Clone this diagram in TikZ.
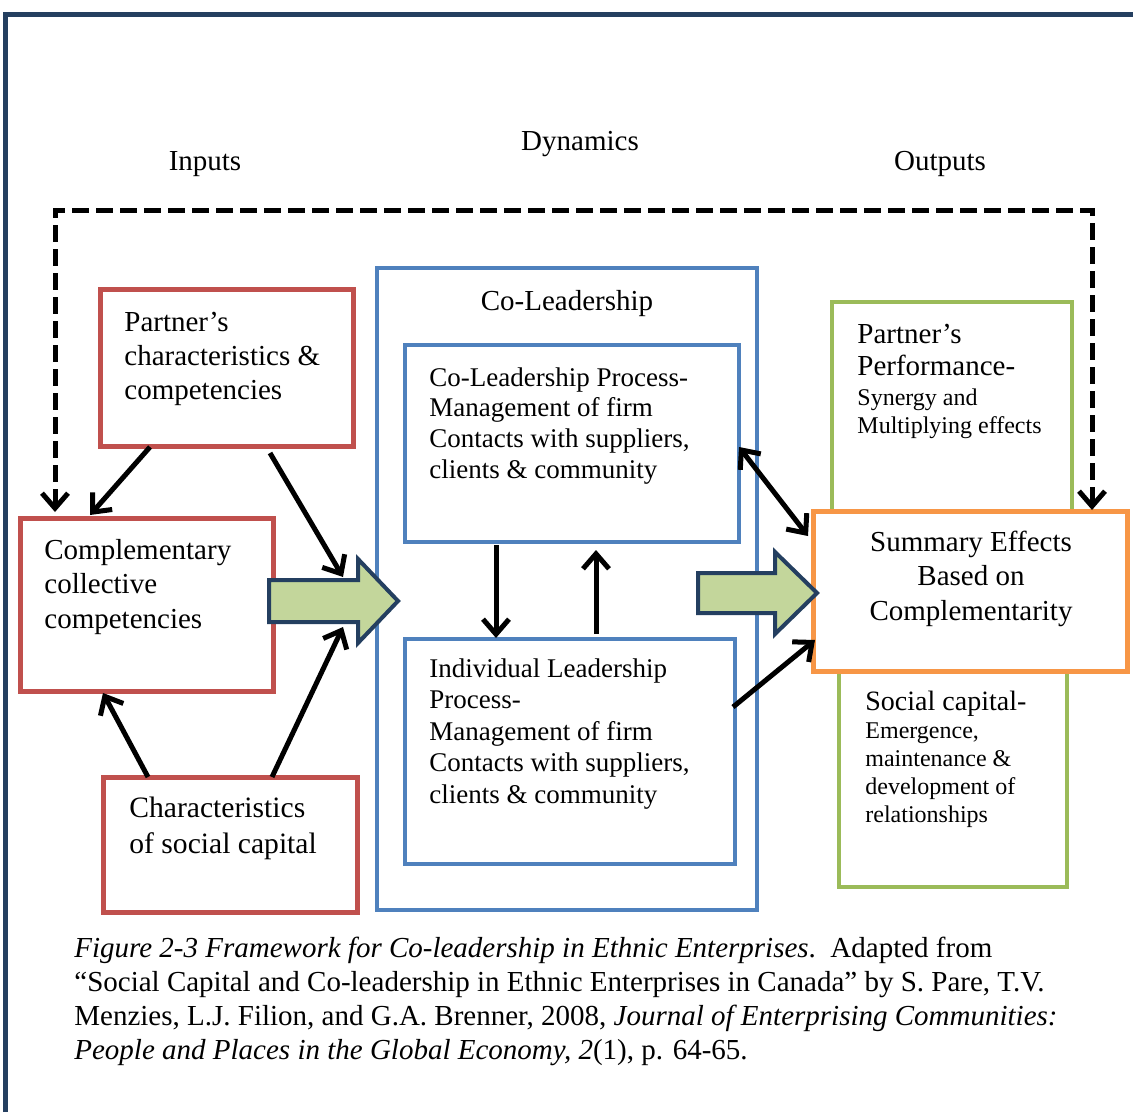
\documentclass[tikz,border=0pt]{standalone}
\usepackage{fontspec}
\setmainfont{Liberation Serif}
\usetikzlibrary{arrows.meta,calc}
\definecolor{cred}{HTML}{C0504D}
\definecolor{cblue}{HTML}{4F81BD}
\definecolor{cgreen}{HTML}{9BBB59}
\definecolor{corange}{HTML}{F79646}
\definecolor{cfill}{HTML}{C3D69B}
\definecolor{cnavy}{HTML}{243F60}
\tikzset{
  boxbase/.style={rectangle, inner sep=0pt, outer sep=0pt, anchor=north west},
  redbox/.style={boxbase, draw=cred, line width=2.5pt},
  bluebox/.style={boxbase, draw=cblue, line width=2.2pt},
  greenbox/.style={boxbase, draw=cgreen, line width=2.2pt},
  orangebox/.style={boxbase, draw=corange, line width=2.5pt, fill=white},
  txt/.style={anchor=base west, align=left, inner sep=0pt, font=\fontsize{14.5}{17}\selectfont},
  ctxt/.style={anchor=base, align=center, inner sep=0pt, font=\fontsize{14.5}{17}\selectfont},
  arr/.style={line width=2.5pt, -{Straight Barb[length=7.5pt,width=13pt]}},
  dblarr/.style={line width=2.5pt, {Straight Barb[length=7.5pt,width=13pt]}-{Straight Barb[length=7.5pt,width=13pt]}},
  dasharr/.style={line width=2.5pt, dash pattern=on 8.5pt off 3.5pt, {Straight Barb[length=7.5pt,width=13pt]}-{Straight Barb[length=7.5pt,width=13pt]}},
  blockarrow/.style={fill=cfill, draw=cnavy, line width=2pt, line join=miter},
  frame/.style={draw=cnavy, line width=2.5pt}
}
\begin{document}
\begin{tikzpicture}[x=0.5pt,y=-0.5pt]
\useasboundingbox (0,0) rectangle (1133,1112);
\fill[white] (0,0) rectangle (1133,1112);
\draw[frame] (5,1112) -- (5,15) -- (1133,15);

% headers
\node[ctxt] (hin) at (205,171) {Inputs};
\node[ctxt] (hdyn) at (580,151) {Dynamics};
\node[ctxt] (hout) at (940,171) {Outputs};

% boxes
\node[redbox, minimum width=126.5pt, minimum height=78pt] (pc) at (100,290) {};
\node[redbox, minimum width=126.5pt, minimum height=86.5pt] (cc) at (20,518) {};
\node[redbox, minimum width=127pt, minimum height=67.5pt] (sc) at (103,777) {};
\node[bluebox, minimum width=190pt, minimum height=321pt] (co) at (377,268) {};
\node[bluebox, minimum width=167pt, minimum height=98.5pt] (clp) at (405,345) {};
\node[bluebox, minimum width=165pt, minimum height=112.5pt] (ilp) at (405,639) {};
\node[greenbox, minimum width=120pt, minimum height=119pt] (pp) at (832,302) {};
\node[greenbox, minimum width=114pt, minimum height=118.5pt] (scap) at (839,650) {};
\node[orangebox, minimum width=157pt, minimum height=80pt] (se) at (813,511) {};

% texts (anchor = baseline of last line)
\node[txt] (pct) at (124,399) {Partner’s\\characteristics \&\\competencies};
\node[txt, font=\fontsize{14.5}{17.25}\selectfont] (cct) at (44,628) {Complementary\\collective\\competencies};
\node[txt, font=\fontsize{14.8}{18}\selectfont] (sct) at (129,853) {Characteristics\\of social capital};
\node[ctxt] (colt) at (567,311) {Co-Leadership};
\node[txt, font=\fontsize{13.5}{15.3}\selectfont] (clpt) at (429,478) {Co-Leadership Process-\\Management of firm\\Contacts with suppliers,\\clients \& community};
\node[txt, font=\fontsize{13.5}{15.7}\selectfont] (ilpt) at (429,803) {Individual Leadership\\Process-\\Management of firm\\Contacts with suppliers,\\clients \& community};
\node[txt, font=\fontsize{14.5}{16}\selectfont] (ppt1) at (857,375) {Partner’s\\Performance-};
\node[txt, font=\fontsize{12}{14}\selectfont] (ppt2) at (857,433) {Synergy and\\Multiplying effects};
\node[ctxt, font=\fontsize{14.5}{17.25}\selectfont] (set) at (971,620) {Summary Effects\\Based on\\Complementarity};
\node[txt, font=\fontsize{14}{16}\selectfont] (scpt1) at (865,710) {Social capital-};
\node[txt, font=\fontsize{12}{14}\selectfont] (scpt2) at (865,822) {Emergence,\\maintenance \&\\development of\\relationships};

% block arrows
\draw[blockarrow] (269,580) -- (358,580) -- (358,559) -- (398,601) -- (358,643) -- (358,622) -- (269,622) -- cycle;
\draw[blockarrow] (698,573) -- (775,573) -- (775,552) -- (817,593) -- (775,634) -- (775,613) -- (698,613) -- cycle;
\coordinate (lbtop) at (343,577);
\coordinate (lbbot) at (343,627);

% connectors
\draw[arr] ($(pc.south west)+(50,1)$) -- ($(cc.north west)+(70,-3)$);
\draw[arr] ($(pc.south west)+(170,7)$) -- (lbtop);
\draw[arr] ($(sc.north west)+(45,0)$) -- ($(cc.south west)+(83,2)$);
\draw[arr] ($(sc.north west)+(169,0)$) -- (lbbot);
\draw[arr] ($(clp.south west)+(91,3)$) -- ($(ilp.north west)+(91,-1)$);
\draw[arr] ($(ilp.north west)+(191,-5)$) -- ($(clp.south west)+(191,8)$);
\draw[dblarr] ($(clp.north east)+(0,102)$) -- ($(se.north west)+(-5,25)$);
\draw[arr] ($(ilp.north east)+(-2,68)$) -- ($(se.north west)+(2,129)$);
\draw[dasharr] ($(cc.north west)+(35,-6)$) -- ++(0,-301) -| ($(se.north west)+(279,-1)$);

% caption
\node[txt, font=\fontsize{14.5}{17}\selectfont] (cap) at (74,1059) {\textit{Figure 2-3 Framework for Co-leadership in Ethnic Enterprises}.\ \ Adapted from\\“Social Capital and Co-leadership in Ethnic Enterprises in Canada” by S. Pare, T.V.\\Menzies, L.J. Filion, and G.A. Brenner, 2008, \textit{Journal of Enterprising Communities:}\\\textit{People and Places in the Global Economy, 2}(1), p. 64-65.};
\end{tikzpicture}
\end{document}
